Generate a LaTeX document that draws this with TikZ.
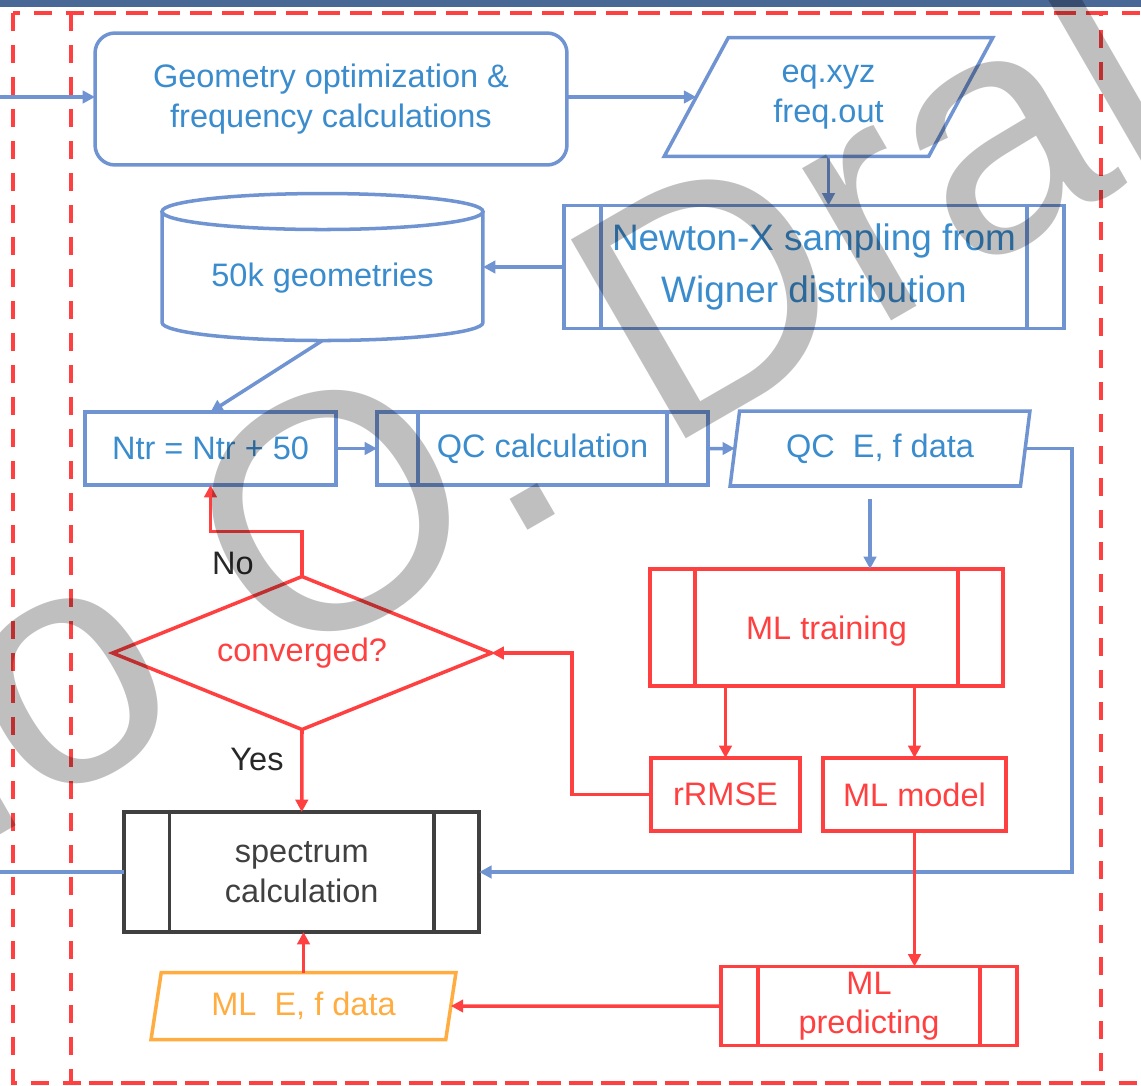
\documentclass[tikz,border=0pt]{standalone}
\usepackage{fontspec}
\setmainfont{Liberation Sans}
\usetikzlibrary{arrows.meta,shapes.geometric}
\definecolor{lblue}{RGB}{112,148,210}
\definecolor{tblue}{RGB}{58,140,205}
\definecolor{lred}{RGB}{255,64,64}
\definecolor{lorange}{RGB}{255,172,64}
\definecolor{dgray}{RGB}{64,64,64}
\definecolor{lgray}{RGB}{40,40,40}
\definecolor{topbar}{RGB}{74,104,150}

\begin{document}
\begin{tikzpicture}[x=0.02cm,y=-0.02cm,
  every node/.style={inner sep=0pt,outer sep=0pt,align=center,font=\fontsize{18.5}{22.5}\selectfont},
  bbox/.style={rectangle,draw=lblue,line width=2pt,text=tblue},
  rbox/.style={rectangle,draw=lred,line width=2pt,text=lred},
  proc/.style 2 args={path picture={
    \draw[#1,line width=2pt] ([xshift=#2]path picture bounding box.north west) -- ([xshift=#2]path picture bounding box.south west)
      ([xshift=-#2]path picture bounding box.north east) -- ([xshift=-#2]path picture bounding box.south east);}},
  para/.style 2 args={trapezium,trapezium left angle=#1,trapezium right angle=#2,trapezium stretches=true},
  bline/.style={draw=lblue,line width=2pt},
  rline/.style={draw=lred,line width=2pt},
  tip/.style={-{Triangle[length=7pt,width=7pt]}},
  dbox/.style={draw=lred,line width=2pt,dash pattern=on 0.36cm off 0.28cm},
  lab/.style={text=lgray},
  wm/.style={text=black,text opacity=0.25,rotate=30,font=\fontsize{190}{190}\selectfont}]
  \useasboundingbox (0,0) rectangle (1141,1085);
  \fill[topbar] (0,0) rectangle (1141,7);
  \draw[dbox] (13,13) rectangle (1170,1083);
  \draw[dbox] (71,13) rectangle (1101,1083);

  \node[bbox,rounded corners=0.4cm,minimum width=9.44cm,minimum height=2.64cm] (geo) at (331,99) {Geometry optimization \&\\frequency calculations};
  \node[bbox,para={61}{119},minimum width=6.58cm,minimum height=2.38cm] (eq) at (828.5,97) {eq.xyz\\freq.out};
  \node[bbox,proc={lblue}{0.74cm},minimum width=10cm,minimum height=2.46cm,font=\fontsize{21}{29.6}\selectfont] (nx) at (814,267) {Newton-X sampling from\\Wigner distribution};
  \node[minimum width=6.42cm,minimum height=2.94cm] (db) at (322.5,267) {};
  \node[text=tblue] (dbl) at ([yshift=-0.23cm]db.center) {50k geometries};
  \node[bbox,minimum width=5.02cm,minimum height=1.46cm] (ntr) at (210.5,448.5) {Ntr = Ntr + 50};
  \node[bbox,proc={lblue}{0.82cm},minimum width=6.62cm,minimum height=1.46cm] (qc) at (542.5,448.5) {QC calculation};
  \node[bbox,para={78}{102},minimum width=6cm,minimum height=1.5cm] (qcd) at (880,448.5) {QC\ \ E, f data};
  \node[rbox,proc={lred}{0.9cm},minimum width=7.06cm,minimum height=2.34cm,text depth=0pt] (mlt) at (826.5,627.5) {ML training};
  \node[rbox,minimum width=2.98cm,minimum height=1.46cm] (rr) at (725.5,794.5) {rRMSE};
  \node[rbox,minimum width=3.66cm,minimum height=1.46cm] (mm) at (914.5,794.5) {ML model};
  \node[rbox,diamond,aspect=2.5,minimum width=7.58cm,minimum height=3.06cm] (conv) at (302,653) {converged?};
  \node[rectangle,draw=dgray,line width=2.3pt,text=dgray,proc={dgray}{0.9cm},minimum width=7.1cm,minimum height=2.4cm] (spec) at (301.75,872) {spectrum\\calculation};
  \node[rbox,proc={lred}{0.74cm},minimum width=5.92cm,minimum height=1.58cm] (mlp) at (869,1006) {ML\\predicting};
  \node[para={76.6}{103.4},draw=lorange,line width=2pt,text=lorange,minimum width=6.1cm,minimum height=1.34cm] (mld) at (303.5,1006) {ML\ \ E, f data};
  \node[lab] (no) at (233,563) {No};
  \node[lab] (yes) at (257,759) {Yes};
  \coordinate (in1) at (0,97);
  \coordinate (in2) at (0,872);

  % database cylinder
  \draw[bline] (db.north west) ++(0,18) -- ++(0,111) arc[start angle=180,end angle=360,x radius=3.21cm,y radius=0.36cm] -- ++(0,-111);
  \draw[bline] (db.north) ++(0,18) ellipse[x radius=3.21cm,y radius=0.36cm];

  \draw[bline,tip] (in1) -- (in1 -| geo.west);
  \draw[bline,tip] (eq.left side -| geo.east) -- (eq.left side);
  \draw[bline,tip] (eq.south) -- (eq.south |- nx.north);
  \draw[bline,tip] (nx) -- (db);
  \draw[bline,tip] (db.south) -- (ntr.north);
  \draw[bline,tip] (ntr) -- (qc);
  \draw[bline,tip] (qc) -- (qcd);
  \draw[bline,tip] (qcd.right side) -- ++(47,0) |- (spec.east);
  \draw[bline,tip] ([shift={(-0.2cm,-0.26cm)}]qcd.south) -- ([xshift=-0.2cm]qcd.south |- mlt.north);
  \draw[bline] (in2) -- (spec.west);

  \draw[rline,tip] (mlt.south -| rr.north) -- (rr.north);
  \draw[rline,tip] (mlt.south -| mm.north) -- (mm.north);
  \draw[rline,tip] (rr.west) -- ++(-79,0) |- (conv.east);
  \draw[rline,tip] (conv.north) -- ++(0,-45) -| (ntr.south);
  \draw[rline,tip] (conv.south) -- (spec.north);
  \draw[rline,tip] (mm.south) -- (mm.south |- mlp.north);
  \draw[rline,tip] (mlp) -- (mld);
  \draw[rline,tip] (mld.north) -- (mld.north |- spec.south);

  % watermark
  \node[wm] (wmark) at (273.5,539.5) {Pavlo O. Dral};
\end{tikzpicture}
\end{document}
